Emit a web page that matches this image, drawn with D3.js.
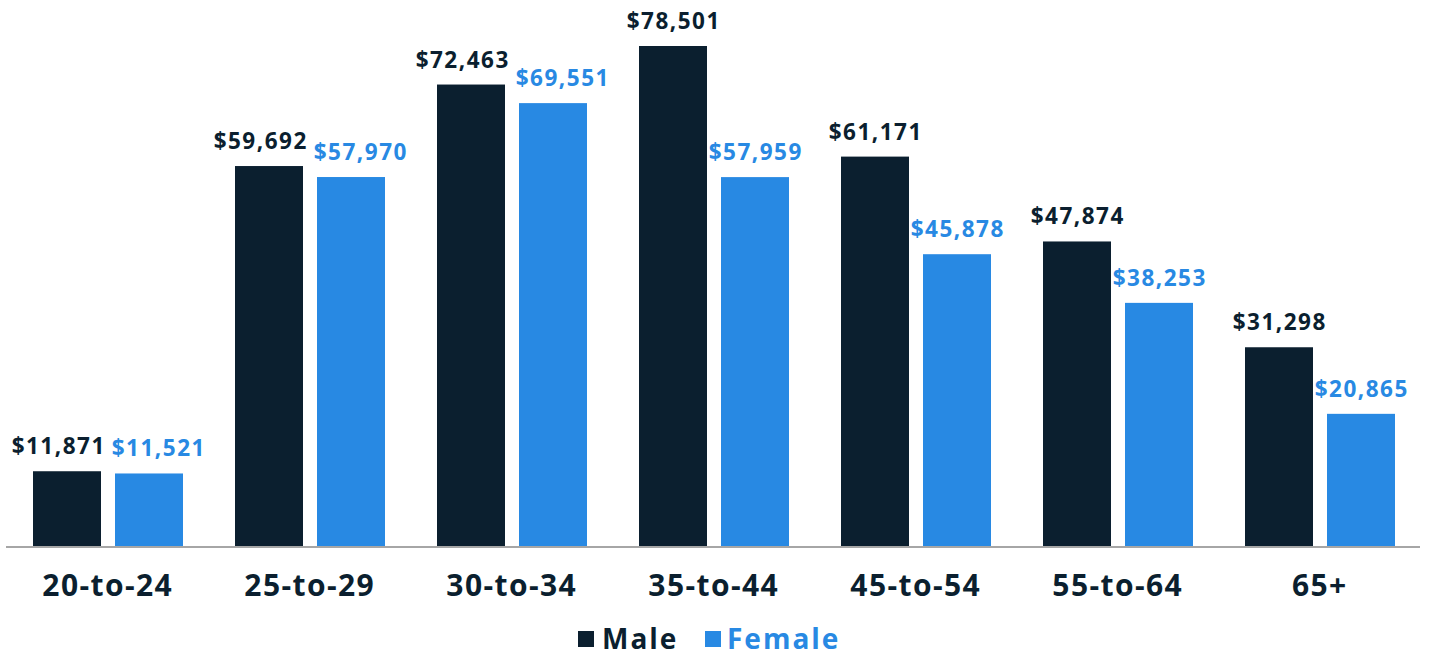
<!DOCTYPE html>
<html>
<head>
<meta charset="utf-8">
<script src="https://cdn.jsdelivr.net/npm/d3@7"></script>
<style>
  html, body { margin: 0; padding: 0; background: #fff; }
  svg { display: block; }
  text { font-family: "Open Sans", "Inter", sans-serif; font-weight: 700; }
</style>
</head>
<body>
<svg id="chart" width="1431" height="656"></svg>
<script>
const categories = ["20-to-24", "25-to-29", "30-to-34", "35-to-44", "45-to-54", "55-to-64", "65+"];
const seriesNames = ["Male", "Female"];
const maleValues = [11871, 59692, 72463, 78501, 61171, 47874, 31298];
const femaleValues = [11521, 57970, 69551, 57959, 45878, 38253, 20865];
const colors = { Male: "#0b1f2f", Female: "#2889e3" };

const W = 1431, H = 656;
const baseY = 547;
const svg = d3.select("#chart");

const x0 = d3.scaleBand().domain(categories).range([6, 1420]).padding(0);
const x1 = d3.scaleBand().domain(seriesNames).range([27, 177]).paddingInner(14 / 82).paddingOuter(0);
const y = d3.scaleLinear().domain([0, 78501]).range([baseY, 46]);

const data = categories.map((c, i) => ({ cat: c, vals: [
  { s: "Male", v: maleValues[i] },
  { s: "Female", v: femaleValues[i] }
]}));

const fmt = d => "$" + d3.format(",")(d);
const valLS = 1.5;

const groups = svg.append("g").selectAll("g.grp").data(data).join("g")
  .attr("class", "grp")
  .attr("transform", d => `translate(${x0(d.cat)},0)`);

groups.selectAll("rect").data(d => d.vals).join("rect")
  .attr("x", d => x1(d.s))
  .attr("width", x1.bandwidth())
  .attr("y", d => y(d.v))
  .attr("height", d => baseY - y(d.v))
  .attr("fill", d => colors[d.s]);

groups.each(function(d) {
  const g = d3.select(this);
  const labels = g.selectAll("text.val").data(d.vals).join("text")
    .attr("class", "val")
    .attr("x", v => x1(v.s) + x1.bandwidth() / 2 + valLS / 2)
    .attr("y", v => y(v.v) - 17)
    .attr("text-anchor", "middle")
    .attr("font-size", 22.5)
    .attr("letter-spacing", valLS)
    .attr("fill", v => colors[v.s])
    .text(v => fmt(v.v));
  const nodes = labels.nodes();
  const b0 = nodes[0].getBBox(), b1 = nodes[1].getBBox();
  const vOverlap = Math.abs(b0.y - b1.y) < b0.height * 0.8;
  const gap = 6;
  const overlap = (b0.x + b0.width + gap) - b1.x;
  if (vOverlap && overlap > 0) {
    d3.select(nodes[0]).attr("x", +nodes[0].getAttribute("x") - overlap / 2);
    d3.select(nodes[1]).attr("x", +nodes[1].getAttribute("x") + overlap / 2);
  }
});

// baseline axis
const catLS = 1.4;
const xAxis = d3.axisBottom(x0).tickSize(0).tickPadding(0);
const axG = svg.append("g").attr("transform", `translate(0,${baseY})`).call(xAxis);
axG.select(".domain").attr("stroke", "#a6a6a6").attr("stroke-width", 2).attr("d", "M6,0H1420");
axG.selectAll(".tick text")
  .attr("y", 49)
  .attr("dy", 0)
  .attr("x", catLS / 2)
  .attr("font-size", 30)
  .attr("letter-spacing", catLS)
  .attr("font-family", "'Open Sans', sans-serif")
  .attr("font-weight", 700)
  .attr("fill", "#0b1f2f");

// legend
const legend = svg.append("g");
const legendItems = [
  { s: "Male", sx: 578, tx: 602 },
  { s: "Female", sx: 705, tx: 727 }
];
legend.selectAll("rect").data(legendItems).join("rect")
  .attr("x", d => d.sx).attr("y", 631).attr("width", 16).attr("height", 16)
  .attr("fill", d => colors[d.s]);
legend.selectAll("text").data(legendItems).join("text")
  .attr("x", d => d.tx).attr("y", 649)
  .attr("font-size", 28)
  .attr("letter-spacing", 2)
  .attr("fill", d => colors[d.s])
  .text(d => d.s);
</script>
</body>
</html>
